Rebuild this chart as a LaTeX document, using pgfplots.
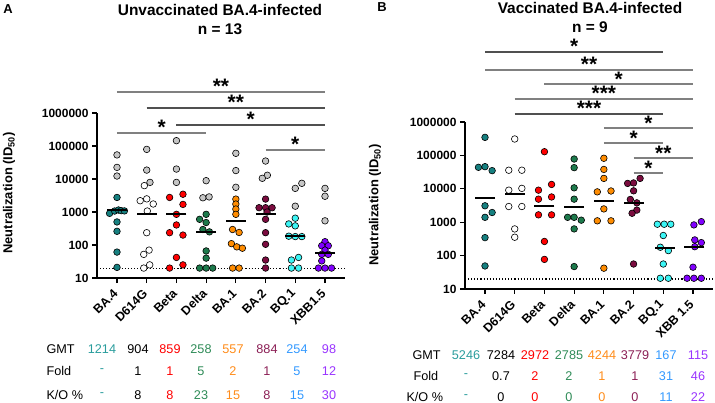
\documentclass[border=0pt]{standalone}
\usepackage{fontspec}
\setmainfont{Liberation Sans}
\usepackage{pgfplots}
\pgfplotsset{compat=1.18}

\definecolor{cteal}{HTML}{168080}
\definecolor{cred}{HTML}{FF0000}
\definecolor{cgreen}{HTML}{1D7A4C}
\definecolor{corange}{HTML}{FF8C00}
\definecolor{cmaroon}{HTML}{7B0C3F}
\definecolor{ccyan}{HTML}{3CF5F5}
\definecolor{cpurple}{HTML}{8000FF}
\definecolor{cgray}{HTML}{C6C6C6}
% colours of the table text
\definecolor{tteal}{HTML}{2A9D9D}
\definecolor{tgreen}{HTML}{2E8B57}
\definecolor{tmaroon}{HTML}{8B1F55}
\definecolor{tblue}{HTML}{3399FF}
\definecolor{tpurple}{HTML}{9933FF}
\definecolor{torange}{HTML}{FF8C1A}
\definecolor{bargray}{HTML}{808080}
\definecolor{bardark}{HTML}{505050}

\newcommand\tickfont{\bfseries\fontsize{12}{12}\selectfont}
\newcommand\xtickfont{\bfseries\fontsize{12.5}{12.5}\selectfont}
\newcommand\tabfont{\fontsize{12.7}{13}\selectfont}
\newcommand\starfont{\bfseries\fontsize{21}{21}\selectfont}

\pgfplotsset{
  dots/.style={only marks, mark=*, mark size=3.3bp,
    mark options={draw=black, line width=0.6bp, fill=#1}},
  gm/.style={only marks, mark=-, mark size=10bp,
    mark options={draw=black, line width=2bp}},
}

\begin{document}
\begin{tikzpicture}
\useasboundingbox (0,0) rectangle (715bp,-403bp);

% ---------------- panel A ----------------
\node[font=\bfseries\fontsize{13}{13}\selectfont] at (8bp,-9bp) {A};
\node[font=\bfseries\fontsize{15.5}{15.5}\selectfont] at (220bp,-10bp) {Unvaccinated BA.4-infected};
\node[font=\bfseries\fontsize{15.5}{15.5}\selectfont] at (220bp,-29bp) {n = 13};
\node[rotate=90, font=\bfseries\fontsize{13}{13}\selectfont] at (9bp,-193bp) {Neutralization (ID\textsubscript{50})};

\begin{axis}[at={(97bp,-278bp)}, anchor=south west,
  scale only axis, width=248bp, height=165bp,
  xmin=-0.673, xmax=7.673,
  ymode=log, ymin=10, ymax=1000000,
  axis x line*=bottom, axis y line*=left,
  axis line style={-, line width=1.4bp},
  tick align=outside, major tick length=5bp,
  tick style={black, line width=1.2bp},
  yminorticks=false,
  xtick={0,1,2,3,4,5,6,7},
  ytick={10,100,1000,10000,100000,1000000},
  yticklabels={10,100,1000,10000,100000,1000000},
  yticklabel style={font=\tickfont},
  xticklabel shift=7bp,
  xticklabel style={font=\xtickfont, rotate=45, anchor=east, inner sep=2bp},
  clip=false,
  xticklabels={BA.4,D614G,Beta,Delta,BA.1,BA.2,BQ.1,XBB1.5}]
\addplot[black, dotted, line width=1.1bp] coordinates {(-0.673,20) (7.673,20)};
\addplot[dots=cgray] coordinates {
(0,53700)(0,22500)(0,12300)
(1,79000)(1,18600)(1.11,7900)
(2,145000)(2,20000)(2,7900)
(3,8900)(2.89,2700)(3.1,2870)
(4,60000)(4,18000)(4,5600)
(5,35000)(5.06,13000)(4.89,10500)
(6.22,7400)(6,5200)(6,1500)
(7,5200)(7,3000)(7,540)};
\addplot[dots=cteal] coordinates {(0,2760)(-0.25,910)(-0.08,1070)(0.05,1150)(0.14,1100)(0.25,1080)(0,500)(0,260)(0,61)(0,21)};
\addplot[dots=white] coordinates {(0.92,6300)(0.78,2200)(1.0,2500)(1.22,1750)(1.02,1070)(1,236)(1.08,70)(0.9,52)(1.1,25)(0.9,20)};
\addplot[dots=cred] coordinates {(1.77,2760)(2.22,3450)(2.22,1700)(2,850)(2,405)(1.77,236)(2.22,200)(2,42)(2.22,25)(1.77,20)};
\addplot[dots=cgreen] coordinates {(3,850)(2.78,600)(3,480)(2.89,295)(3.11,250)(3,66)(3,40)(2.78,20)(3,20)(3.22,20)};
\addplot[dots=corange] coordinates {(4,2460)(4,1740)(4,1230)(4,850)(3.89,295)(4.11,240)(3.85,110)(4.03,88)(4.22,80)(3.89,20)(4.11,20)};
\addplot[dots=cmaroon] coordinates {(5,2460)(4.78,1350)(5,1350)(5.22,1350)(5.05,1000)(5,600)(5,236)(5,105)(5,35)(5,20)};
\addplot[dots=ccyan] coordinates {(6,650)(5.78,435)(6,380)(5.78,185)(6,180)(6.22,180)(6.11,42)(5.87,35)(5.87,20)(6.11,20)};
\addplot[dots=cpurple] coordinates {(7,126)(6.89,95)(7.11,95)(7,70)(6.89,52)(7.11,52)(6.89,33)(6.78,20)(7,20)(7.22,20)};
\addplot[gm] coordinates {(0,1150)(1,890)(2,850)(3,250)(4,550)(5,890)(6,188)(7,56)};

% significance bars
\draw[bargray, line width=1.2bp] (axis cs:0,4330000) -- (axis cs:7,4330000);
\node[font=\starfont, anchor=base, yshift=-2bp] at (axis cs:3.5,4330000) {**};
\draw[bardark, line width=1.2bp] (axis cs:1,1420000) -- (axis cs:7,1420000);
\node[font=\starfont, anchor=base, yshift=-2bp] at (axis cs:4,1420000) {**};
\draw[bardark, line width=1.2bp] (axis cs:2,433000) -- (axis cs:7,433000);
\node[font=\starfont, anchor=base, yshift=-2bp] at (axis cs:4.5,433000) {*};
\draw[bargray, line width=1.2bp] (axis cs:0,248000) -- (axis cs:3,248000);
\node[font=\starfont, anchor=base, yshift=-2bp] at (axis cs:1.5,248000) {*};
\draw[bargray, line width=1.2bp] (axis cs:5,75700) -- (axis cs:7,75700);
\node[font=\starfont, anchor=base, yshift=-2bp] at (axis cs:6,75700) {*};
\end{axis}

% table A
\begin{scope}[font=\tabfont]
\node[anchor=west] at (43bp,-349bp) {GMT};
\node[anchor=west] at (43bp,-371bp) {Fold};
\node[anchor=west] at (43bp,-395bp) {K/O \%};
\foreach \x/\g/\f/\k/\c in {102/1214/-/-/tteal, 138/904/1/8/black, 170/859/1/8/cred,
  201/258/5/23/tgreen, 233/557/2/15/torange, 267/884/1/8/tmaroon,
  297/254/5/15/tblue, 329/98/12/30/tpurple}{
  \node[text=\c] at (\x bp,-349bp) {\g};
  \node[text=\c] at (\x bp,-371bp) {\f};
  \node[text=\c] at (\x bp,-395bp) {\k};
}
\end{scope}

% ---------------- panel B ----------------
\node[font=\bfseries\fontsize{13}{13}\selectfont] at (382bp,-7bp) {B};
\node[font=\bfseries\fontsize{15.5}{15.5}\selectfont] at (590bp,-8bp) {Vaccinated BA.4-infected};
\node[font=\bfseries\fontsize{15.5}{15.5}\selectfont] at (590bp,-27bp) {n = 9};
\node[rotate=90, font=\bfseries\fontsize{13}{13}\selectfont] at (375bp,-205bp) {Neutralization (ID\textsubscript{50})};

\begin{axis}[at={(465bp,-289bp)}, anchor=south west,
  scale only axis, width=248bp, height=167bp,
  xmin=-0.673, xmax=7.673,
  ymode=log, ymin=10, ymax=1000000,
  axis x line*=bottom, axis y line*=left,
  axis line style={-, line width=1.4bp},
  tick align=outside, major tick length=5bp,
  tick style={black, line width=1.2bp},
  yminorticks=false,
  xtick={0,1,2,3,4,5,6,7},
  ytick={10,100,1000,10000,100000,1000000},
  yticklabels={10,100,1000,10000,100000,1000000},
  yticklabel style={font=\tickfont},
  xticklabel shift=7bp,
  xticklabel style={font=\xtickfont, rotate=45, anchor=east, inner sep=2bp},
  clip=false,
  xticklabels={BA.4,D614G,Beta,Delta,BA.1,BA.2,BQ.1,XBB 1.5}]
\addplot[black, dotted, line width=1.1bp] coordinates {(-0.673,20) (7.673,20)};
\addplot[dots=cteal] coordinates {(0,347000)(-0.22,44000)(0,46000)(0.24,35000)(0,3100)(0.24,1950)(0,1400)(0,345)(0,49)};
\addplot[dots=white] coordinates {(1,310000)(0.8,36000)(1.24,36000)(0.8,9100)(1.24,10300)(0.8,2950)(1.24,2950)(1,630)(1,355)};
\addplot[dots=cred] coordinates {(2,129000)(1.8,9100)(2.24,13500)(1.8,4900)(2.24,5700)(1.8,1660)(2.24,1660)(2,265)(2,77)};
\addplot[dots=cgreen] coordinates {(3,78000)(3,43000)(3,10700)(3,4900)(2.78,1400)(3,1400)(3.24,1150)(3,630)(3,47)};
\addplot[dots=corange] coordinates {(4,82000)(4,38000)(4,20500)(3.78,8100)(4.24,8600)(4,2500)(3.78,1100)(4.24,1100)(4,42)};
\addplot[dots=cmaroon] coordinates {(4.8,14500)(5,15000)(5.22,20500)(5,8700)(4.89,4800)(5.11,3800)(5.11,2300)(4.95,1850)(5,56)};
\addplot[dots=ccyan] coordinates {(5.8,870)(6.03,870)(6.25,870)(6,400)(5.9,178)(6.17,141)(6,56)(5.9,21)(6.17,21)};
\addplot[dots=cpurple] coordinates {(7.03,830)(7.28,1040)(7.06,295)(7.28,245)(7.06,185)(7,45)(6.8,21)(7.03,21)(7.28,21)};
\addplot[gm] coordinates {(0,5300)(1,7200)(2,3100)(3,2900)(4,4300)(5,3800)(6.05,167)(7.05,187)};

% significance bars
\draw[bardark, line width=1.2bp] (axis cs:0,125000000) -- (axis cs:6,125000000);
\node[font=\starfont, anchor=base, yshift=-2bp] at (axis cs:3,125000000) {*};
\draw[bargray, line width=1.2bp] (axis cs:0,36100000) -- (axis cs:7,36100000);
\node[font=\starfont, anchor=base, yshift=-2bp] at (axis cs:3.5,36100000) {**};
\draw[bargray, line width=1.2bp] (axis cs:2,13700000) -- (axis cs:7,13700000);
\node[font=\starfont, anchor=base, yshift=-2bp] at (axis cs:4.5,13700000) {*};
\draw[bargray, line width=1.2bp] (axis cs:1,4890000) -- (axis cs:7,4890000);
\node[font=\starfont, anchor=base, yshift=-2bp] at (axis cs:4,4890000) {***};
\draw[bardark, line width=1.2bp] (axis cs:1,1740000) -- (axis cs:6,1740000);
\node[font=\starfont, anchor=base, yshift=-2bp] at (axis cs:3.5,1740000) {***};
\draw[bargray, line width=1.2bp] (axis cs:4,661000) -- (axis cs:7,661000);
\node[font=\starfont, anchor=base, yshift=-2bp] at (axis cs:5.5,661000) {*};
\draw[bargray, line width=1.2bp] (axis cs:4,235000) -- (axis cs:6,235000);
\node[font=\starfont, anchor=base, yshift=-2bp] at (axis cs:5,235000) {*};
\draw[bargray, line width=1.2bp] (axis cs:5,83600) -- (axis cs:7,83600);
\node[font=\starfont, anchor=base, yshift=-2bp] at (axis cs:6,83600) {**};
\draw[bargray, line width=1.2bp] (axis cs:5,29700) -- (axis cs:6,29700);
\node[font=\starfont, anchor=base, yshift=-2bp] at (axis cs:5.5,29700) {*};
\end{axis}

% table B
\begin{scope}[font=\tabfont]
\node[anchor=west] at (409bp,-355bp) {GMT};
\node[anchor=west] at (410bp,-376bp) {Fold};
\node[anchor=west] at (403bp,-397bp) {K/O \%};
\foreach \x/\g/\f/\k/\c in {466/5246/-/-/tteal, 501/7284/0.7/0/black, 535/2972/2/0/cred,
  569/2785/2/0/tgreen, 602/4244/1/0/torange, 635/3779/1/0/tmaroon,
  666/167/31/11/tblue, 698/115/46/22/tpurple}{
  \node[text=\c] at (\x bp,-355bp) {\g};
  \node[text=\c] at (\x bp,-376bp) {\f};
  \node[text=\c] at (\x bp,-397bp) {\k};
}
\end{scope}
\end{tikzpicture}
\end{document}
